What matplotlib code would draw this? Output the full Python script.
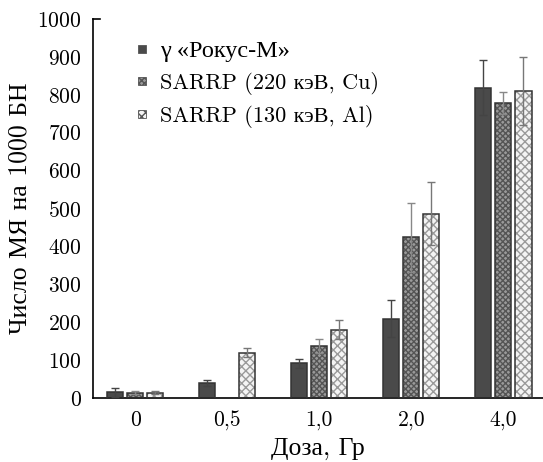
import numpy as np
import matplotlib
matplotlib.use('Agg')
import matplotlib.pyplot as plt
import matplotlib.patches as mpatches
from matplotlib.legend_handler import HandlerPatch

plt.rcParams['font.family'] = ['cmr10', 'Liberation Serif']
plt.rcParams['mathtext.fontset'] = 'cm'
plt.rcParams['axes.unicode_minus'] = False
plt.rcParams['axes.formatter.use_mathtext'] = True

doses = ['0', '0,5', '1,0', '2,0', '4,0']
labels = ['γ «Рокус-М»', 'SARRP (220 кэВ, Cu)', 'SARRP (130 кэВ, Al)']
rokus = [16, 40, 92, 210, 819]
rokus_err = [12, 9, 12, 48, 72]
sarrp220 = [14, 0, 138, 425, 778]
sarrp220_err = [4, 0, 18, 91, 29]
sarrp130 = [14, 120, 181, 486, 810]
sarrp130_err = [4, 12, 24, 83, 89]

values = [rokus, sarrp220, sarrp130]
errors = [rokus_err, sarrp220_err, sarrp130_err]
faces = ['#4a4a4a', '#9a9a9a', '#f4f4f4']
hatch_col = ['#4a4a4a', '#555555', '#9a9a9a']
hatches = [None, 'xxxxxx', 'xxxx']
err_col = ['#444444', '#888888', '#777777']


def square(legend, orig_handle, xdescent, ydescent, width, height, fontsize):
    s = 5.5
    return mpatches.Rectangle((-xdescent + (width - s) / 2, -ydescent + (height - s) / 2), s, s)


fig = plt.figure(figsize=(5.43, 4.62), dpi=100)
ax = fig.add_axes([0.171, 0.138, 0.829, 0.821])

x = np.arange(len(doses))
w = 0.175
step = 0.218
handles = []
for i in range(3):
    pos = x + (i - 1) * step
    v = np.array(values[i])
    e = np.array(errors[i])
    mask = v > 0
    ax.bar(pos[mask], v[mask], w, color=faces[i], edgecolor=hatch_col[i],
           hatch=hatches[i], linewidth=0, zorder=2)
    ax.bar(pos[mask], v[mask], w, fill=False, edgecolor='#333333',
           linewidth=1.1, zorder=3)
    ax.errorbar(pos[mask], v[mask], yerr=e[mask], fmt='none', ecolor=err_col[i],
                elinewidth=1, capsize=3, capthick=1, zorder=4)
    handles.append(mpatches.Rectangle((0, 0), 1, 1, facecolor=faces[i],
                                      edgecolor='#555555', hatch=hatches[i], linewidth=0.6))

ax.set_xlim(-0.46, 4.43)
ax.set_ylim(0, 1000)
ax.set_yticks(np.arange(0, 1001, 100))
ax.set_xticks(x)
ax.set_xticklabels(doses)
ax.tick_params(axis='y', labelsize=15.5, length=0, pad=8)
ax.tick_params(axis='x', labelsize=15.5, length=0, pad=9)
ax.spines['top'].set_visible(False)
ax.spines['right'].set_visible(False)
ax.spines['left'].set_linewidth(1.2)
ax.spines['bottom'].set_linewidth(1.2)
ax.plot([0, 0.015], [1, 1], transform=ax.transAxes, color='black', lw=1.2, clip_on=False)

ax.set_xlabel('Доза, Гр', fontsize=18.5, labelpad=4)
ax.set_ylabel('Число МЯ на 1000 БН', fontsize=18.5, labelpad=4)

leg = ax.legend(handles, labels, loc='upper left', bbox_to_anchor=(0.075, 0.965),
                frameon=False, fontsize=16, handlelength=0.6, handleheight=0.6,
                handletextpad=0.5, labelspacing=0.45, borderaxespad=0,
                handler_map={mpatches.Rectangle: HandlerPatch(patch_func=square)})
leg.get_texts()[0].set_family(['Liberation Serif'])
leg.get_texts()[0].set_fontsize(17.5)

fig.savefig('out.png', dpi=100)
